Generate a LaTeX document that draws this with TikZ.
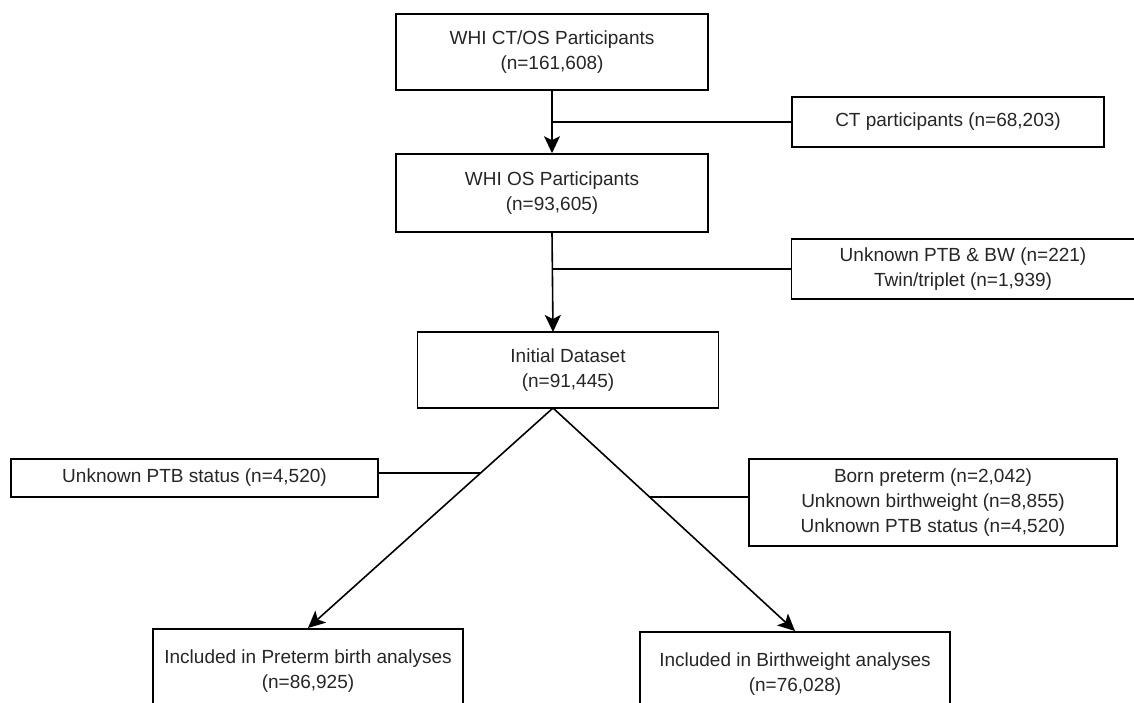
\documentclass[tikz,border=0pt]{standalone}
\usepackage{fontspec}
\setmainfont{Liberation Sans}
\usetikzlibrary{arrows.meta,calc}
\begin{document}
\begin{tikzpicture}[x=1pt,y=-1pt,
  box/.style={draw=black, line width=1.6pt, fill=white, align=center, inner sep=0pt,
    font=\fontsize{19}{25}\selectfont, text=black!85},
  conn/.style={draw=black, line width=1.6pt},
  arr/.style={conn, -{Stealth[length=17pt,width=16pt,inset=4pt]}}]
\useasboundingbox (0,0) rectangle (1134,703);
\clip (0,0) rectangle (1134,703);
\fill[white] (0,0) rectangle (1134,703);

\node[box, minimum width=312pt, minimum height=76pt] (b1) at (552,52) {WHI CT/OS Participants\\(n=161,608)};
\node[box, minimum width=312pt, minimum height=50pt] (ct) at (948,122) {CT participants (n=68,203)};
\node[box, minimum width=312pt, minimum height=78pt] (b2) at (552,193) {WHI OS Participants\\(n=93,605)};
\node[box, minimum width=343pt, minimum height=60pt] (ex2) at (963,269) {Unknown PTB \& BW (n=221)\\Twin/triplet (n=1,939)};
\node[box, minimum width=301pt, minimum height=76pt] (b3) at (568,370) {Initial Dataset\\(n=91,445)};
\node[box, minimum width=367pt, minimum height=38pt] (exl) at (194.5,478) {Unknown PTB status (n=4,520)};
\node[box, minimum width=368pt, minimum height=87pt] (exr) at (933,502.5) {Born preterm (n=2,042)\\Unknown birthweight (n=8,855)\\Unknown PTB status (n=4,520)};
\node[box, anchor=north, minimum width=310pt, minimum height=84pt] (pt) at (308,628) {Included in Preterm birth analyses\\(n=86,925)};
\node[box, anchor=north, minimum width=310pt, minimum height=84pt] (bw) at (795,631) {Included in Birthweight analyses\\(n=76,028)};

\coordinate (j1) at (b1.south |- ct.west);
\coordinate (j2) at (b2.south |- ex2.west);
\coordinate (top3) at (553,332);
\coordinate (apex) at (553,408);
\coordinate (jl) at (481,473);
\coordinate (jr) at (650,497);

\draw[arr] (b1.south) -- (b2.north);
\draw[conn] (j1) -- (ct.west);
\draw[arr] (b2.south) -- (top3);
\draw[conn] (j2) -- (ex2.west);
\draw[arr] (apex) -- (pt.north);
\draw[arr] (apex) -- (bw.north);
\draw[conn] (exl.east |- jl) -- (jl);
\draw[conn] (exr.west |- jr) -- (jr);
\end{tikzpicture}
\end{document}
